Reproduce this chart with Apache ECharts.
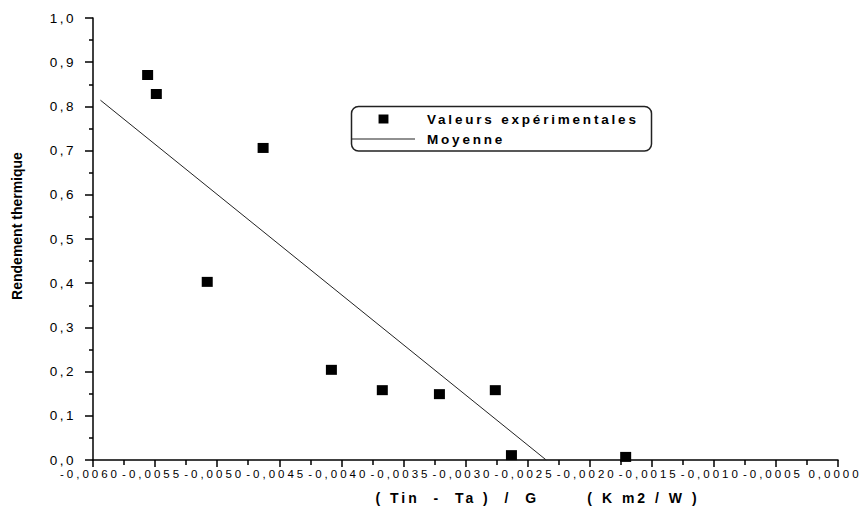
<!DOCTYPE html>
<html>
<head>
<meta charset="utf-8">
<script src="https://cdn.jsdelivr.net/npm/echarts@6/dist/echarts.min.js"></script>
<style>
  html, body { margin: 0; padding: 0; background: #fff; }
  #chart { width: 865px; height: 516px; }
  #chart text { white-space: pre; }
</style>
</head>
<body>
<div id="chart"></div>
<script>
// Measured efficiency against reduced temperature difference
const measuredX = [-0.00556, -0.00549, -0.00463, -0.00508, -0.00408, -0.00367, -0.00321, -0.00276, -0.00263, -0.00171];
const measuredY = [0.871, 0.828, 0.706, 0.403, 0.204, 0.158, 0.149, 0.158, 0.011, 0.007];

// Averaged straight line (two end points)
const fitX = [-0.00594, -0.00235];
const fitY = [0.814, 0.0];

// Tick labels (decimal comma)
const xTickLabels = ['-0,0060', '-0,0055', '-0,0050', '-0,0045', '-0,0040', '-0,0035', '-0,0030',
                     '-0,0025', '-0,0020', '-0,0015', '-0,0010', '-0,0005', '0,0000'];
const yTickLabels = ['0,0', '0,1', '0,2', '0,3', '0,4', '0,5', '0,6', '0,7', '0,8', '0,9', '1,0'];

const seriesNames = ['Valeurs expérimentales', 'Moyenne'];
const xTitle = '( Tin  -  Ta )  /  G       ( K m2 / W )';
const yTitle = 'Rendement thermique';

const FONT = "'Liberation Sans', Arial, sans-serif";
const X_MIN = -0.006, X_STEP = 0.0005;

const chart = echarts.init(document.getElementById('chart'), null, { renderer: 'svg' });

const tickStyle = { color: '#000', width: 1.5 };

chart.setOption({
  animation: false,
  backgroundColor: '#fff',
  grid: { left: 93, right: 27, top: 18, bottom: 56, containLabel: false, outerBoundsMode: 'none' },
  xAxis: {
    type: 'value',
    min: X_MIN, max: 0, interval: X_STEP,
    axisLine: { onZero: false, lineStyle: { color: '#000', width: 1.5 } },
    axisTick: { show: true, inside: false, length: 7, lineStyle: tickStyle },
    minorTick: { show: true, splitNumber: 2, length: 5, lineStyle: tickStyle },
    splitLine: { show: false },
    minorSplitLine: { show: false },
    axisLabel: {
      color: '#000', fontFamily: FONT, fontSize: 11.5, margin: 8, padding: [0, 6, 0, 0],
      formatter: v => xTickLabels[Math.round((v - X_MIN) / X_STEP)] ?? ''
    },
    name: xTitle,
    nameLocation: 'middle',
    nameGap: 31,
    nameTextStyle: { color: '#000', fontFamily: FONT, fontWeight: 'bold', fontSize: 14, padding: [0, 0, 0, 144] }
  },
  yAxis: {
    type: 'value',
    min: 0, max: 1, interval: 0.1,
    axisLine: { show: true, onZero: false, lineStyle: { color: '#000', width: 1.5 } },
    axisTick: { show: true, inside: false, length: 8, lineStyle: tickStyle },
    minorTick: { show: true, splitNumber: 2, length: 4, lineStyle: tickStyle },
    splitLine: { show: false },
    minorSplitLine: { show: false },
    axisLabel: {
      color: '#000', fontFamily: FONT, fontSize: 13.5, margin: 17,
      formatter: v => yTickLabels[Math.round(v * 10)] ?? ''
    },
    name: yTitle,
    nameLocation: 'middle',
    nameGap: 69,
    nameTextStyle: { color: '#000', fontFamily: FONT, fontWeight: 'bold', fontSize: 14, padding: [0, 0, 0, 26] }
  },
  legend: {
    orient: 'vertical',
    left: 352, top: 112,
    padding: 0,
    itemWidth: 63, itemHeight: 9, itemGap: 6,
    symbolKeepAspect: true,
    selectedMode: false,
    textStyle: { color: '#000', fontFamily: FONT, fontWeight: 'bold', fontSize: 13.5, padding: [0, 0, 0, 7] },
    data: [
      { name: seriesNames[0], icon: 'path://M0 0H11V10H0Z' },
      { name: seriesNames[1], icon: 'path://M0 0H63V1.1H0Z', itemStyle: { color: '#222' } }
    ]
  },
  graphic: [{
    type: 'rect',
    shape: { x: 351.5, y: 106.5, width: 300, height: 44.5, r: 7 },
    style: { fill: 'none', stroke: '#222', lineWidth: 1.5 },
    silent: true, z: 10
  }],
  series: [
    {
      name: seriesNames[0],
      type: 'scatter',
      symbol: 'rect',
      symbolSize: [11, 10],
      itemStyle: { color: '#000', opacity: 1 },
      data: measuredX.map((x, i) => [x, measuredY[i]]),
      z: 3
    },
    {
      name: seriesNames[1],
      type: 'line',
      symbol: 'none',
      showSymbol: false,
      lineStyle: { color: '#222', width: 1 },
      itemStyle: { color: '#222' },
      data: fitX.map((x, i) => [x, fitY[i]]),
      z: 2
    }
  ]
});

// Wider glyph spacing for the label sets
function spaceLabels() {
  document.querySelectorAll('#chart svg text').forEach(t => {
    const s = t.textContent;
    let ls = null;
    if (xTickLabels.includes(s)) ls = 3;
    else if (yTickLabels.includes(s)) ls = 2.5;
    else if (seriesNames.includes(s)) ls = 2.8;
    else if (s === xTitle) ls = 3;
    if (ls !== null) t.setAttribute('letter-spacing', ls);
  });
}
spaceLabels();
chart.on('finished', spaceLabels);
</script>
</body>
</html>
